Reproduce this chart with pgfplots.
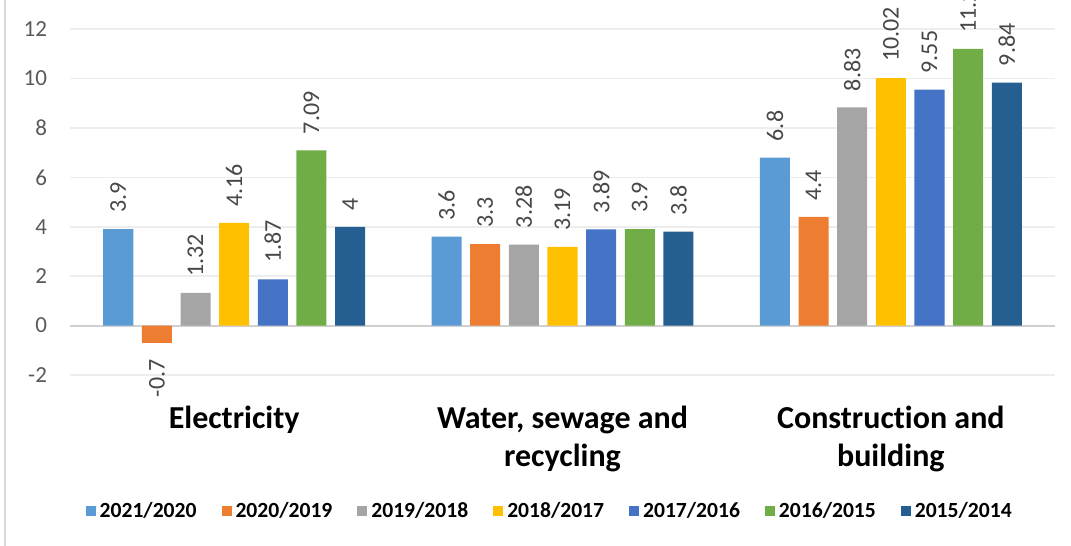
\documentclass[border=0pt]{standalone}
\usepackage{pgfplots}
\pgfplotsset{compat=1.18}
\usepackage{fontspec}
\setmainfont{Carlito}[Ligatures={NoCommon}]
\definecolor{cA}{HTML}{5B9BD5}
\definecolor{cB}{HTML}{ED7D31}
\definecolor{cC}{HTML}{A5A5A5}
\definecolor{cD}{HTML}{FFC000}
\definecolor{cE}{HTML}{4472C4}
\definecolor{cF}{HTML}{70AD47}
\definecolor{cG}{HTML}{255E91}
\definecolor{gridc}{HTML}{EDEDED}
\definecolor{zeroc}{HTML}{D0D0D0}
\definecolor{tickc}{HTML}{595959}
\begin{document}
\begin{tikzpicture}
\begin{axis}[
  name=ax,
  scale only axis,
  width=492.5pt, height=187.5pt,
  xmin=-0.5, xmax=2.5,
  ymin=-2, ymax=13.18,
  clip=false,
  axis line style={draw=none},
  major tick length=0pt,
  xtick={0,1,2},
  xticklabels={Electricity,{Water, sewage and\\recycling},{Construction and\\building}},
  xticklabel style={font=\fontsize{16}{19}\selectfont\bfseries, align=center, yshift=-12pt},
  ytick={-2,2,4,6,8,10,12},
  extra y ticks={0},
  extra y tick style={grid style={zeroc, line width=1pt}},
  yticklabel style={font=\fontsize{11.5}{13}\selectfont, color=tickc, xshift=-8pt},
  /pgf/number format/assume math mode=true,
  ymajorgrids,
  grid style={gridc, line width=0.8pt},
  ybar,
  bar width=0.0915,
  visualization depends on={rawy \as \rawy},
  nodes near coords={\pgfmathprintnumber[assume math mode=true]{\pgfplotspointmeta}},
  every node near coord/.append style={font=\fontsize{12}{14}\selectfont, color=black!72, rotate=90, inner xsep=8pt, inner ysep=0pt,
    /utils/exec={\ifdim\rawy pt<0pt\gdef\myanchor{east}\else\gdef\myanchor{west}\fi}, anchor=\myanchor},
  legend columns=7,
  legend style={at={(axis description cs:0.488,-0.3627)}, anchor=center, draw=none, fill=none,
    font=\fontsize{10.8}{13}\selectfont\bfseries,
    /tikz/every even column/.append style={column sep=10.5pt},
    nodes={inner xsep=2pt}},
  legend image code/.code={\fill[#1] (0pt,-2.5pt) rectangle (5pt,2.5pt);},
]
\addplot[fill=cA, draw=none, bar shift=-0.3531] coordinates {(0,3.9) (1,3.6) (2,6.8)};
\addplot[fill=cB, draw=none, bar shift=-0.2354] coordinates {(0,-0.7) (1,3.3) (2,4.4)};
\addplot[fill=cC, draw=none, bar shift=-0.1177] coordinates {(0,1.32) (1,3.28) (2,8.83)};
\addplot[fill=cD, draw=none, bar shift=0] coordinates {(0,4.16) (1,3.19) (2,10.02)};
\addplot[fill=cE, draw=none, bar shift=0.1177] coordinates {(0,1.87) (1,3.89) (2,9.55)};
\addplot[fill=cF, draw=none, bar shift=0.2354] coordinates {(0,7.09) (1,3.9) (2,11.2)};
\addplot[fill=cG, draw=none, bar shift=0.3531] coordinates {(0,4) (1,3.8) (2,9.84)};
\legend{2021/2020,2020/2019,2019/2018,2018/2017,2017/2016,2016/2015,2015/2014}
\end{axis}
\pgfresetboundingbox
\path[use as bounding box] ([xshift=-35pt,yshift=-85.5pt]ax.south west) rectangle ([xshift=8pt]ax.north east);
\draw[black!15, line width=1pt] ([xshift=-32.5pt,yshift=-85.5pt]ax.south west) -- ([xshift=-32.5pt]ax.north west);
\end{tikzpicture}
\end{document}
